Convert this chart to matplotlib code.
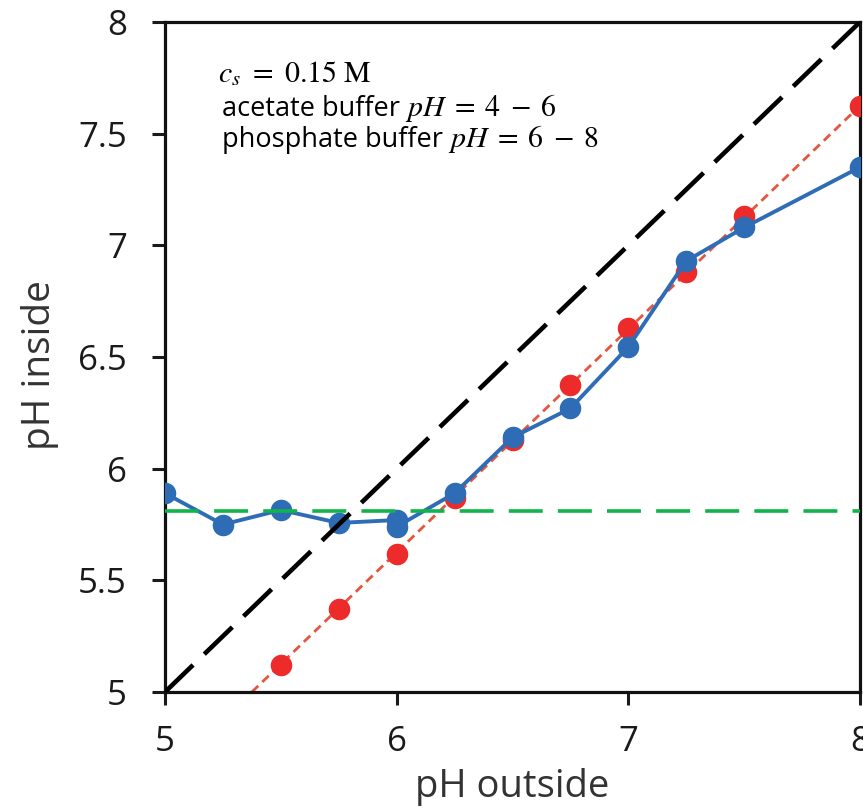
import matplotlib
matplotlib.use("Agg")
import matplotlib.pyplot as plt

# Data
ph_out_blue = [5.0, 5.25, 5.5, 5.75, 6.0, 6.0, 6.25, 6.5, 6.75, 7.0, 7.25, 7.5, 8.0]
ph_in_blue = [5.89, 5.75, 5.815, 5.757, 5.77, 5.74, 5.89, 6.14, 6.27, 6.545, 6.93, 7.08, 7.35]

ph_out_red = [5.5, 5.75, 6.0, 6.25, 6.5, 6.75, 7.0, 7.25, 7.5, 8.0]
ph_in_red = [5.12, 5.37, 5.62, 5.87, 6.13, 6.375, 6.63, 6.88, 7.13, 7.625]

red_line_x = [5.375, 8.0]
red_line_y = [5.0, 7.625]

diag_x = [5.0, 8.0]
diag_y = [5.0, 8.0]

plateau_x = [5.0, 8.0]
plateau_y = [5.81, 5.81]

x_ticks = [5, 6, 7, 8]
x_ticklabels = ["5", "6", "7", "8"]
y_ticks = [5, 5.5, 6, 6.5, 7, 7.5, 8]
y_ticklabels = ["5", "5.5", "6", "6.5", "7", "7.5", "8"]

plt.rcParams['font.family'] = ['Open Sans', 'DejaVu Sans']
plt.rcParams['mathtext.fontset'] = 'stix'

W, H = 863, 810
fig = plt.figure(figsize=(W/100, H/100), dpi=100)
ax = fig.add_axes([165/W, 1-692/H, (860-165)/W, (692-22)/H])

ax.plot(red_line_x, red_line_y, color='#e5553f', lw=2.0, dashes=(3.2, 2.0), zorder=2)
ax.plot(ph_out_red, ph_in_red, 'o', color='#ee2b2b', ms=14.5, zorder=3)
ax.plot(ph_out_blue, ph_in_blue, '-o', color='#2e6db6', lw=2.8, ms=14.5, zorder=4)
ax.plot(diag_x, diag_y, color='black', lw=3.3, dashes=(8.5, 3.4), zorder=5)
ax.plot(plateau_x, plateau_y, color='#10b44a', lw=2.6, dashes=(9.4, 4.2), zorder=5)

ax.set_xlim(5, 8)
ax.set_ylim(5, 8)
ax.set_xticks(x_ticks)
ax.set_xticklabels(x_ticklabels)
ax.set_yticks(y_ticks)
ax.set_yticklabels(y_ticklabels)
ax.tick_params(direction='out', length=9.5, width=2.2, labelsize=25, colors='#1a1a1a')
ax.tick_params(axis='x', pad=14)
ax.tick_params(axis='y', pad=18)
for s in ax.spines.values():
    s.set_linewidth(2.3)
    s.set_color('#111111')

ax.set_xlabel('pH outside', fontsize=27.5, color='#333333')
ax.set_ylabel('pH inside', fontsize=28, color='#333333')
ax.xaxis.set_label_coords(0.5, -0.113)
ax.yaxis.set_label_coords(-0.152, 0.488)

# annotation block
fig.text(218/W, 1-82/H, r'$c_s\ =\ 0.15\ \mathrm{M}$',
         fontsize=21.5, va='baseline', ha='left')

renderer = fig.canvas.get_renderer()
lines = [("acetate buffer", r'$pH\;=\;4\;-\;6$', 116),
         ("phosphate buffer", r'$pH\;=\;6\;-\;8$', 147)]
for sans, math, base in lines:
    t = fig.text(222/W, 1-base/H, sans, fontsize=19.5, va='baseline', ha='left')
    bb = t.get_window_extent(renderer=renderer)
    fig.text((bb.x1 + 5)/W, 1-base/H, math, fontsize=21.5, va='baseline', ha='left')

fig.savefig('out.png', dpi=100)
